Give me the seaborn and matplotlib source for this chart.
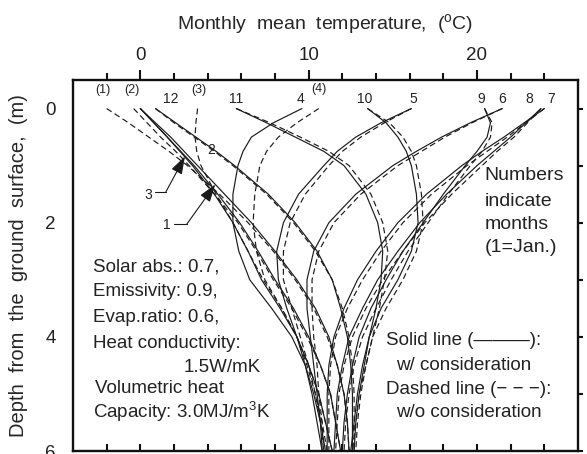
import numpy as np
import pandas as pd
import matplotlib
matplotlib.use("Agg")
import matplotlib.pyplot as plt
import seaborn as sns

# ---------------- data ----------------
depth = [0, 0.25, 0.5, 0.75, 1, 1.5, 2, 2.5, 3, 3.5, 4, 4.5, 5, 5.5, 6]
months = [1, 2, 3, 4, 5, 6, 7, 8, 9, 10, 11, 12]

# solid lines: with consideration
solid_1 = [0.0, 0.9, 1.8, 2.6, 3.4, 5.0, 6.6, 8.0, 9.3, 10.4, 11.2, 11.7, 12.1, 12.3, 12.4]
solid_2 = [0.0, 0.8, 1.6, 2.4, 3.2, 4.6, 5.9, 7.0, 8.0, 9.1, 10.0, 10.7, 11.3, 11.6, 11.9]
solid_3 = [0.0, 0.8, 1.6, 2.35, 3.1, 4.4, 5.5, 6.4, 7.2, 8.3, 9.3, 10.0, 10.6, 11.0, 11.4]
solid_4 = [9.6, 7.9, 6.6, 6.1, 5.8, 5.5, 5.5, 5.85, 6.5, 7.8, 9.0, 9.8, 10.3, 10.7, 11.0]
solid_5 = [16.1, 14.3, 12.8, 11.7, 10.9, 9.4, 8.5, 8.1, 8.2, 8.7, 9.3, 9.8, 10.2, 10.5, 10.8]
solid_6 = [21.5, 19.6, 17.9, 16.4, 15.0, 12.8, 11.2, 10.3, 9.9, 9.9, 10.1, 10.3, 10.5, 10.7, 10.8]
solid_7 = [24.0, 22.8, 21.6, 20.3, 19.1, 17.0, 15.3, 14.0, 12.9, 12.1, 11.5, 11.2, 11.1, 11.1, 11.1]
solid_8 = [23.8, 22.9, 22.0, 21.0, 20.0, 18.2, 16.6, 15.3, 14.1, 13.2, 12.4, 12.0, 11.7, 11.6, 11.5]
solid_9 = [20.45, 20.8, 20.6, 20.0, 19.3, 18.0, 16.8, 15.6, 14.6, 13.7, 13.0, 12.6, 12.3, 12.1, 12.0]
solid_10 = [13.5, 14.6, 15.3, 15.8, 16.1, 16.4, 16.5, 16.1, 15.3, 14.3, 13.6, 13.2, 12.9, 12.7, 12.5]
solid_11 = [5.7, 7.5, 9.2, 10.9, 12.1, 13.4, 14.1, 14.4, 14.3, 14.0, 13.6, 13.3, 13.0, 12.8, 12.7]
solid_12 = [0.9, 2.1, 3.3, 4.5, 5.6, 7.6, 9.2, 10.5, 11.4, 11.9, 12.3, 12.5, 12.6, 12.6, 12.6]

# dashed lines: without consideration
dashed_1 = [-2.0, -0.7, 0.5, 1.7, 2.8, 4.7, 6.4, 7.9, 9.2, 10.3, 11.1, 11.7, 12.1, 12.3, 12.4]
dashed_2 = [-0.4, 0.4, 1.2, 2.1, 2.9, 4.4, 5.8, 6.9, 7.9, 9.0, 9.9, 10.7, 11.3, 11.6, 11.9]
dashed_3 = [3.4, 3.3, 3.25, 3.35, 3.6, 4.5, 5.5, 6.4, 7.3, 8.4, 9.3, 10.0, 10.6, 11.0, 11.4]
dashed_4 = [10.6, 9.3, 8.2, 7.5, 7.1, 6.8, 6.7, 6.9, 7.4, 8.4, 9.3, 9.9, 10.4, 10.8, 11.1]
dashed_5 = [16.1, 14.5, 13.1, 12.0, 11.2, 9.8, 8.9, 8.5, 8.5, 9.0, 9.5, 10.0, 10.4, 10.7, 10.9]
dashed_6 = [21.5, 19.7, 18.1, 16.7, 15.3, 13.1, 11.5, 10.6, 10.2, 10.2, 10.3, 10.5, 10.6, 10.8, 10.9]
dashed_7 = [24.0, 22.9, 21.8, 20.6, 19.4, 17.3, 15.6, 14.3, 13.2, 12.3, 11.6, 11.3, 11.2, 11.2, 11.2]
dashed_8 = [23.8, 23.0, 22.2, 21.2, 20.3, 18.5, 16.9, 15.6, 14.4, 13.4, 12.6, 12.1, 11.8, 11.7, 11.6]
dashed_9 = [20.45, 20.9, 20.8, 20.3, 19.6, 18.3, 17.1, 15.9, 14.9, 14.0, 13.2, 12.7, 12.4, 12.2, 12.1]
dashed_10 = [13.5, 14.8, 15.6, 16.1, 16.4, 16.7, 16.8, 16.4, 15.6, 14.6, 13.8, 13.4, 13.0, 12.8, 12.6]
dashed_11 = [5.7, 7.7, 9.5, 11.2, 12.4, 13.7, 14.4, 14.7, 14.5, 14.2, 13.8, 13.4, 13.1, 12.9, 12.8]
dashed_12 = [0.9, 2.0, 3.2, 4.4, 5.5, 7.5, 9.1, 10.4, 11.4, 12.0, 12.4, 12.6, 12.7, 12.7, 12.7]

solid = [solid_1, solid_2, solid_3, solid_4, solid_5, solid_6,
         solid_7, solid_8, solid_9, solid_10, solid_11, solid_12]
dashed = [dashed_1, dashed_2, dashed_3, dashed_4, dashed_5, dashed_6,
          dashed_7, dashed_8, dashed_9, dashed_10, dashed_11, dashed_12]

# month labels at top of the plot
month_labels = ["(1)", "(2)", "12", "(3)", "11", "4", "(4)", "10", "5", "9", "6", "8", "7"]
month_label_x = [-2.2, -0.5, 1.8, 3.5, 5.7, 9.5, 10.6, 13.3, 16.2, 20.25, 21.5, 23.1, 24.4]
month_label_y = [-0.32, -0.32, -0.17, -0.32, -0.17, -0.17, -0.35, -0.17, -0.17, -0.17, -0.17, -0.17, -0.17]

# ---------------- style ----------------
sns.set_theme(style="white")
plt.rcParams["font.family"] = ["Liberation Sans", "DejaVu Sans"]
plt.rcParams["mathtext.fontset"] = "custom"
plt.rcParams["mathtext.rm"] = "Liberation Sans"
plt.rcParams["mathtext.it"] = "Liberation Sans:italic"
plt.rcParams["text.color"] = "#222222"

fig = plt.figure(figsize=(5.87, 4.54), dpi=100)
ax = fig.add_axes([73 / 587, 1 - 451 / 454, (578 - 73) / 587, (451 - 80) / 454])

rows = []
for m, s, d in zip(months, solid, dashed):
    for z, v in zip(depth, s):
        rows.append({"month": m, "kind": "solid", "depth": z, "temp": v})
    for z, v in zip(depth, d):
        rows.append({"month": m, "kind": "dashed", "depth": z, "temp": v})
df = pd.DataFrame(rows)

for (m, kind), g in df.groupby(["month", "kind"]):
    sns.lineplot(data=g, x="temp", y="depth", sort=False, estimator=None,
                 color="#1a1a1a", lw=0.85,
                 linestyle="-" if kind == "solid" else (0, (5, 3)),
                 ax=ax, legend=False)

ax.set_xlim(-4, 26)
ax.set_ylim(6, -0.5)

# axes decoration
for sp in ax.spines.values():
    sp.set_linewidth(1.7)
    sp.set_color("#111111")

ax.xaxis.tick_top()
ax.xaxis.set_label_position("top")
ax.set_xticks([0, 10, 20])
ax.set_xticks([-2, 2, 4, 6, 8, 12, 14, 16, 18, 22, 24], minor=True)
ax.set_yticks([0, 2, 4, 6])
ax.set_yticks([1, 3, 5], minor=True)
ax.tick_params(axis="x", which="major", direction="out", length=7.5, width=1.5,
               labelsize=13.5, pad=4, colors="#111111", labelcolor="#222222")
ax.tick_params(axis="x", which="minor", direction="out", length=5, width=1.5, colors="#111111")
ax.tick_params(axis="y", which="major", direction="out", length=7.5, width=1.5,
               labelsize=13.5, pad=5, colors="#111111", labelcolor="#222222")
ax.tick_params(axis="y", which="minor", direction="out", length=4, width=1.5, colors="#111111")

ax.set_xlabel("Monthly  mean  temperature,  ($^{\\rm o}$C)", fontsize=14, labelpad=13)
ax.set_ylabel("Depth  from  the  ground  surface,  (m)", fontsize=14.5, labelpad=12)

# bottom and right ticks without labels
axb = ax.secondary_xaxis("bottom")
axb.set_xticks(np.arange(-2, 26, 2))
axb.tick_params(direction="in", length=5, width=1.5, labelbottom=False, colors="#111111")
axr = ax.secondary_yaxis("right")
axr.set_yticks([0, 1, 2, 3, 4, 5, 6])
axr.tick_params(direction="out", length=3.5, width=1.5, labelright=False, colors="#111111")

# month labels
for lab, x, y in zip(month_labels, month_label_x, month_label_y):
    fs = 9 if lab.startswith("(") else 10
    ax.text(x, y, lab, fontsize=fs, ha="center", va="center")
ax.text(4.2, 0.72, "2", fontsize=10, ha="center", va="center")

# arrows labelled 3 and 1
arrow_style = "-|>,head_length=0.9,head_width=0.3"
ax.text(0.45, 1.51, "3", fontsize=10, ha="center", va="center")
ax.plot([0.85, 1.5], [1.47, 1.47], color="#1a1a1a", lw=0.8)
ax.annotate("", xy=(2.65, 0.84), xytext=(1.5, 1.47),
            arrowprops=dict(arrowstyle=arrow_style, color="#1a1a1a", lw=0.8,
                            shrinkA=0, shrinkB=0))
ax.text(1.6, 2.04, "1", fontsize=10, ha="center", va="center")
ax.plot([2.0, 2.75], [2.03, 2.03], color="#1a1a1a", lw=0.8)
ax.annotate("", xy=(4.45, 1.33), xytext=(2.75, 2.03),
            arrowprops=dict(arrowstyle=arrow_style, color="#1a1a1a", lw=0.8,
                            shrinkA=0, shrinkB=0))

# left parameter block
left_lines = [("Solar abs.: 0.7,", -2.8, 2.77),
              ("Emissivity: 0.9,", -2.8, 3.21),
              ("Evap.ratio: 0.6,", -2.8, 3.66),
              ("Heat conductivity:", -2.8, 4.11),
              ("1.5W/mK", 2.55, 4.54),
              ("Volumetric heat", -2.7, 4.9),
              ("Capacity: 3.0MJ/m$^3$K", -2.8, 5.31)]
for t, x, y in left_lines:
    ax.text(x, y, t, fontsize=13.5, ha="left", va="center")

# right note
for t, y in zip(["Numbers", "indicate", "months", "(1=Jan.)"], [1.18, 1.62, 2.03, 2.44]):
    ax.text(20.45, y, t, fontsize=14, ha="left", va="center")

ax.text(14.6, 4.06, "Solid line (\u2014\u2014\u2014):", fontsize=13.5, ha="left", va="center")
ax.text(15.2, 4.51, "w/ consideration", fontsize=13.5, ha="left", va="center")
ax.text(14.6, 4.93, "Dashed line (\u2212 \u2212 \u2212):", fontsize=13.5, ha="left", va="center")
ax.text(15.2, 5.33, "w/o consideration", fontsize=13.5, ha="left", va="center")

fig.savefig("out.png", dpi=100)
